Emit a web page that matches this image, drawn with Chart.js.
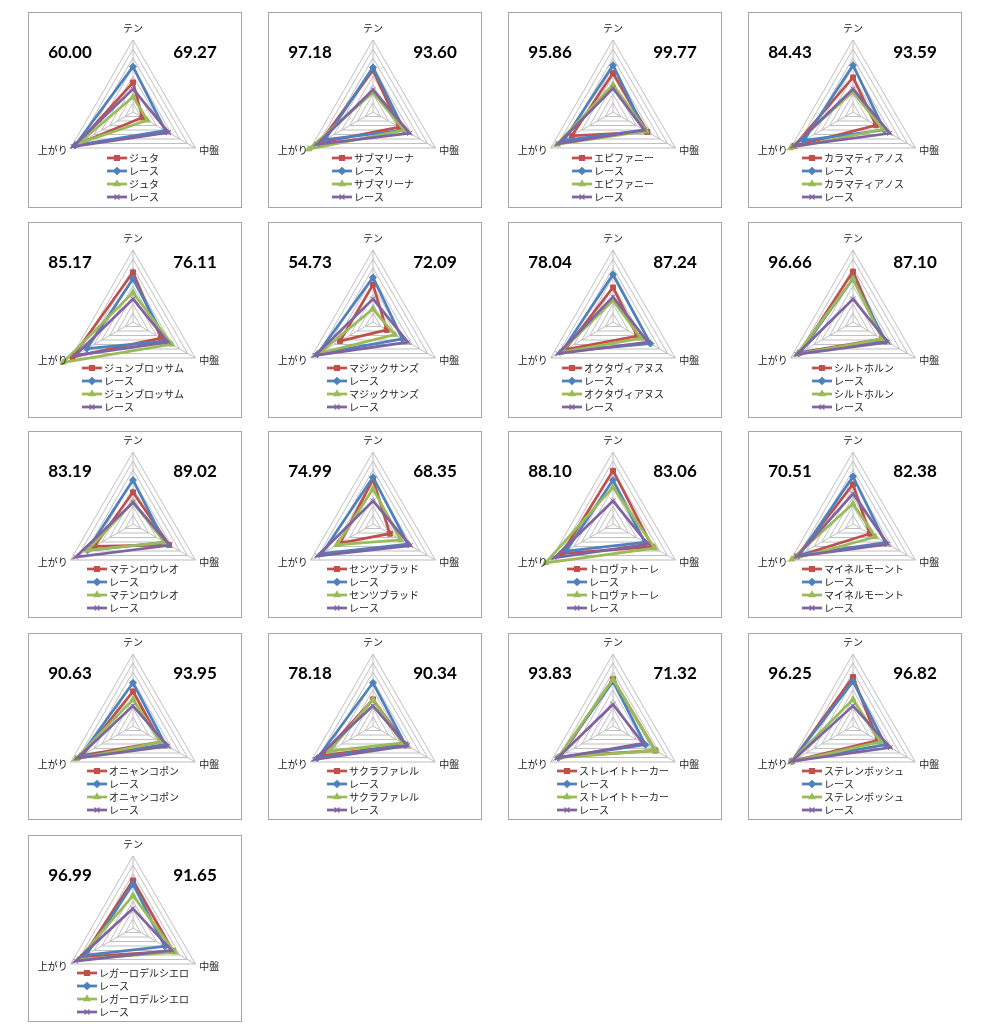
<!DOCTYPE html>
<html>
<head>
<meta charset="utf-8">
<script src="https://cdn.jsdelivr.net/npm/chart.js@4/dist/chart.umd.min.js"></script>
<style>
body { margin: 0; background: #fff; }
.panel { position: absolute; }
</style>
</head>
<body>
<div id="wrap"></div>
<script>
// axis names (clockwise from top)
var axisLabels = ['テン', '中盤', '上がり'];

var horses = ['ジュタ', 'サブマリーナ', 'エピファニー', 'カラマティアノス',
    'ジュンブロッサム', 'マジックサンズ', 'オクタヴィアヌス', 'シルトホルン',
    'マテンロウレオ', 'センツブラッド', 'トロヴァトーレ', 'マイネルモーント',
    'オニャンコポン', 'サクラファレル', 'ストレイトトーカー', 'ステレンボッシュ',
    'レガーロデルシエロ'];

var leftScores = ['60.00', '97.18', '95.86', '84.43', '85.17', '54.73', '78.04', '96.66',
    '83.19', '74.99', '88.10', '70.51', '90.63', '78.18', '93.83', '96.25', '96.99'];
var rightScores = ['69.27', '93.60', '99.77', '93.59', '76.11', '72.09', '87.24', '87.10',
    '89.02', '68.35', '83.06', '82.38', '93.95', '90.34', '71.32', '96.82', '91.65'];

// values per panel: [テン, 中盤, 上がり]
var horseA = [[41,15,90],[58,42,85],[54,55,66],[48,37,94],[69,45,97],[52,22,53],[48,39,77],[70,47,85],
    [44,58,62],[62,27,53],[74,63,82],[55,27,90],[48,44,82],[37,52,82],[65,68,85],[68,40,98],[66,64,80]];
var raceA = [[63,52,93],[62,50,77],[65,50,79],[65,50,79],[60,53,74],[62,47,89],[66,60,82],[60,52,86],
    [61,51,73],[65,56,82],[61,51,75],[66,52,86],[60,52,85],[60,52,89],[62,52,88],[62,52,98],[61,51,75]];
var horseB = [[21,23,87],[27,50,103],[38,53,90],[28,48,100],[41,62,112],[18,35,87],[30,45,85],[60,47,90],
    [30,51,73],[49,44,58],[51,67,108],[28,36,98],[37,44,92],[37,47,70],[65,68,88],[37,44,100],[45,67,88]];
var raceB = [[32,57,96],[31,59,90],[33,50,88],[32,59,95],[32,56,93],[32,56,93],[35,56,88],[32,56,90],
    [30,59,92],[32,60,89],[32,56,94],[42,56,90],[28,56,89],[28,55,93],[30,48,89],[28,60,98],[27,62,92]];

var colors = ['#C0504D', '#4F81BD', '#9BBB59', '#8064A2'];
var styles = ['rect', 'rectRot', 'triangle', 'crossRot'];

var colX = [28, 268, 508, 748];
var rowY = [12, 222, 431, 633, 835];
var rowH = [196, 196, 187, 187, 187];

var extras = {
    id: 'extras',
    afterDraw: function (chart) {
        var ctx = chart.ctx;
        var r = chart.scales.r;
        var o = chart.options.plugins.extras;
        var w = chart.width, h = chart.height;
        ctx.save();
        ctx.strokeStyle = '#a6a6a6';
        ctx.lineWidth = 1;
        ctx.strokeRect(0.5, 0.5, w - 1, h - 1);

        // axis labels
        ctx.fillStyle = '#222';
        ctx.font = '10px "Noto Sans CJK JP"';
        ctx.textBaseline = 'middle';
        var p0 = r.getPointPosition(0, r.drawingArea);
        var p1 = r.getPointPosition(1, r.drawingArea);
        var p2 = r.getPointPosition(2, r.drawingArea);
        ctx.textAlign = 'center';
        ctx.fillText(axisLabels[0], p0.x, p0.y - 12);
        ctx.textAlign = 'left';
        ctx.fillText(axisLabels[1], p1.x + 4, p1.y + 2);
        ctx.textAlign = 'right';
        ctx.fillText(axisLabels[2], p2.x - 3, p2.y + 2);

        // big numbers
        ctx.font = 'bold 17px Lato';
        ctx.fillStyle = '#000';
        ctx.textAlign = 'center';
        ctx.fillText(o.left, 42, 41);
        ctx.fillText(o.right, 167, 41);

        // legend
        ctx.font = '10px "Noto Sans CJK JP"';
        ctx.textAlign = 'left';
        var names = chart.data.datasets.map(function (d) { return d.label; });
        var tw = Math.max.apply(null, names.map(function (n) { return ctx.measureText(n).width; }));
        var x0 = Math.round(r.xCenter - (22 + tw) / 2);
        chart.data.datasets.forEach(function (d, i) {
            var y = o.legendTop + i * 13;
            ctx.strokeStyle = d.borderColor;
            ctx.fillStyle = d.borderColor;
            ctx.lineWidth = 2.75;
            ctx.beginPath();
            ctx.moveTo(x0, y);
            ctx.lineTo(x0 + 20, y);
            ctx.stroke();
            ctx.lineWidth = 1.2;
            Chart.helpers.drawPoint(ctx, {pointStyle: d.pointStyle, radius: d.pointRadius, rotation: 0, borderWidth: 1.2}, x0 + 10, y);
            ctx.fillStyle = '#222';
            ctx.fillText(d.label, x0 + 22, y);
        });
        ctx.restore();
    }
};

var wrap = document.getElementById('wrap');
for (var k = 0; k < horses.length; k++) {
    var row = Math.floor(k / 4), col = k % 4;
    var h = rowH[row];
    var cy = row < 2 ? 100 : 93;
    var div = document.createElement('div');
    div.className = 'panel';
    div.style.left = colX[col] + 'px';
    div.style.top = rowY[row] + 'px';
    var cv = document.createElement('canvas');
    cv.width = 214;
    cv.height = h;
    div.appendChild(cv);
    wrap.appendChild(div);

    var series = [horseA[k], raceA[k], horseB[k], raceB[k]];
    var names = [horses[k], 'レース', horses[k], 'レース'];
    new Chart(cv.getContext('2d'), {
        type: 'radar',
        data: {
            labels: axisLabels,
            datasets: series.map(function (s, i) {
                return {
                    label: names[i],
                    data: s,
                    borderColor: colors[i],
                    backgroundColor: colors[i],
                    pointBackgroundColor: colors[i],
                    pointBorderColor: colors[i],
                    pointStyle: styles[i],
                    pointRadius: 3.5,
                    pointBorderWidth: 1,
                    borderWidth: 2.75,
                    fill: false,
                    clip: false,
                    order: 4 - i
                };
            })
        },
        options: {
            responsive: false,
            animation: false,
            layout: { padding: { left: 33, right: 37, top: cy - 72, bottom: h - cy - 72 } },
            plugins: {
                legend: { display: false },
                tooltip: { enabled: false },
                extras: { left: leftScores[k], right: rightScores[k], legendTop: row < 2 ? 146 : 138 }
            },
            scales: {
                r: {
                    min: 0,
                    max: 100,
                    ticks: { display: false, stepSize: 12.5 },
                    grid: { color: '#bfbfbf', lineWidth: 1 },
                    angleLines: { color: '#bfbfbf', lineWidth: 1 },
                    pointLabels: { display: false }
                }
            }
        },
        plugins: [extras]
    });
}
</script>
</body>
</html>
